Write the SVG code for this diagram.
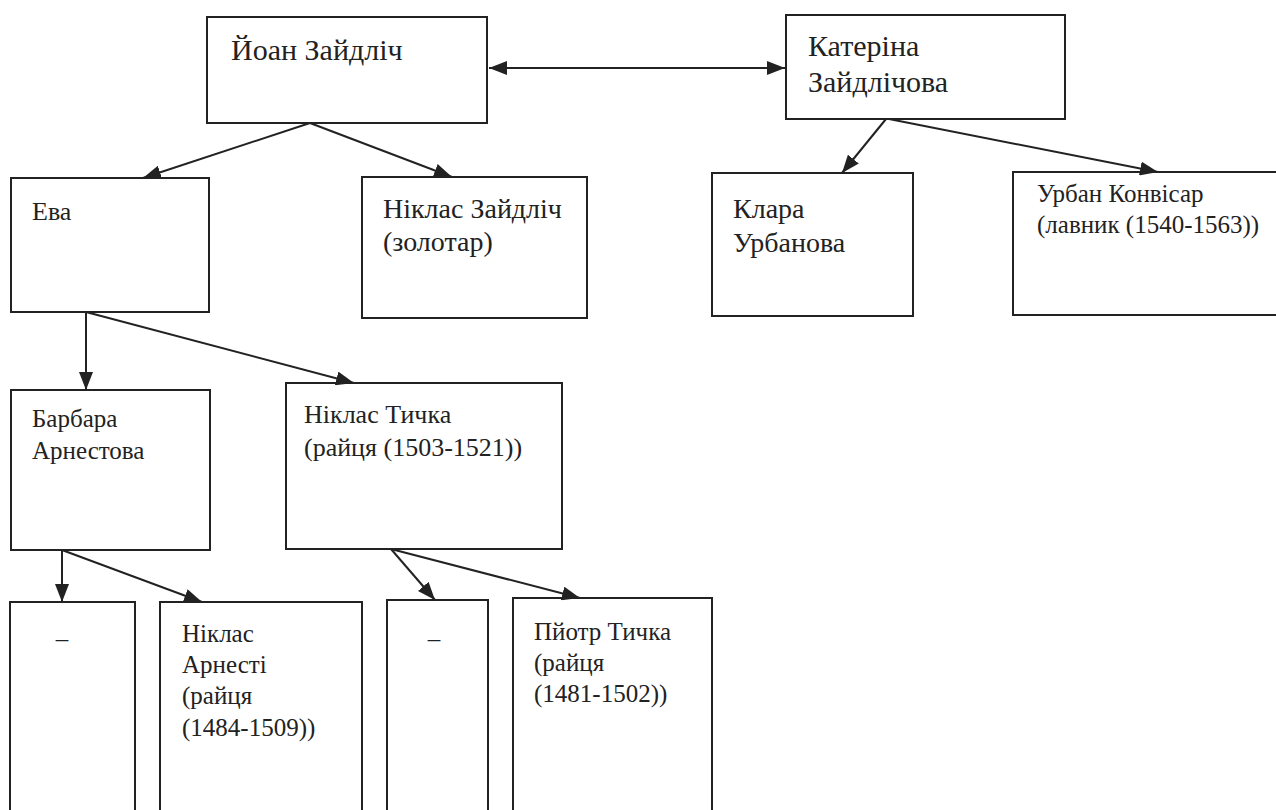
<svg xmlns="http://www.w3.org/2000/svg" width="1276" height="810" viewBox="0 0 1276 810" font-family="'Liberation Serif', 'Times New Roman', 'DejaVu Serif', serif">
<style>
.box{fill:none;stroke:#222;stroke-width:2}
text{font-family:"Liberation Serif","Times New Roman","DejaVu Serif",serif;fill:#222}
.l1{font-size:30px}
.l2{font-size:28px}
.l3{font-size:26px}
.l4{font-size:25px}
.c{stroke:#222;stroke-width:2;fill:none;marker-end:url(#ah)}
</style>
<defs>
<marker id="ah" markerUnits="userSpaceOnUse" markerWidth="20" markerHeight="14" refX="18" refY="7" orient="auto">
<path d="M0,0 L18,7 L0,14 Z" fill="#222"/>
</marker>
<marker id="ahs" markerUnits="userSpaceOnUse" markerWidth="20" markerHeight="14" refX="0" refY="7" orient="auto">
<path d="M18,0 L0,7 L18,14 Z" fill="#222"/>
</marker>
</defs>
<rect width="1276" height="810" fill="#fff"/>
<g id="connectors">
<line class="c" x1="489" y1="68" x2="785" y2="68" marker-start="url(#ahs)"/>
<line class="c" x1="310" y1="123" x2="143" y2="178"/>
<line class="c" x1="310" y1="123" x2="452" y2="177"/>
<line class="c" x1="886" y1="119" x2="842" y2="173"/>
<line class="c" x1="889" y1="119" x2="1158" y2="172"/>
<line class="c" x1="86" y1="312" x2="86" y2="390"/>
<line class="c" x1="86" y1="312" x2="354" y2="383"/>
<line class="c" x1="62" y1="550" x2="62" y2="602"/>
<line class="c" x1="62" y1="550" x2="202" y2="602"/>
<line class="c" x1="391" y1="549" x2="435" y2="600"/>
<line class="c" x1="391" y1="549" x2="580" y2="598"/>
</g>
<g id="n-ioan"><rect class="box" x="207" y="17" width="280" height="106"/><text class="l1" x="231" y="60">Йоан Зайдліч</text></g>
<g id="n-kateryna"><rect class="box" x="786" y="15" width="279" height="104"/><text class="l1" x="808" y="56">Катеріна</text><text class="l1" x="808" y="92">Зайдлічова</text></g>
<g id="n-eva"><rect class="box" x="11" y="178" width="198" height="134"/><text class="l3" x="32" y="220">Ева</text></g>
<g id="n-niklas-z"><rect class="box" x="362" y="177" width="225" height="141"/><text class="l2" x="383" y="218">Ніклас Зайдліч</text><text class="l2" x="383" y="251">(золотар)</text></g>
<g id="n-klara"><rect class="box" x="712" y="173" width="201" height="143"/><text class="l2" x="733" y="218">Клара</text><text class="l2" x="733" y="252">Урбанова</text></g>
<g id="n-urban"><rect class="box" x="1013" y="172" width="280" height="143"/><text class="l4" x="1037" y="202">Урбан Конвісар</text><text class="l4" x="1037" y="233">(лавник (1540-1563))</text></g>
<g id="n-barbara"><rect class="box" x="11" y="390" width="199" height="160"/><text class="l4" x="32" y="427">Барбара</text><text class="l4" x="32" y="459">Арнестова</text></g>
<g id="n-niklas-t"><rect class="box" x="286" y="383" width="276" height="166"/><text class="l3" x="304" y="423">Ніклас Тичка</text><text class="l3" x="304" y="456">(райця (1503-1521))</text></g>
<g id="n-dash1"><rect class="box" x="10" y="602" width="125" height="220"/><text class="l4" x="62" y="647" text-anchor="middle">–</text></g>
<g id="n-niklas-a"><rect class="box" x="160" y="602" width="202" height="220"/><text class="l4" x="182" y="642">Ніклас</text><text class="l4" x="182" y="673">Арнесті</text><text class="l4" x="182" y="704">(райця</text><text class="l4" x="182" y="736">(1484-1509))</text></g>
<g id="n-dash2"><rect class="box" x="387" y="600" width="101" height="222"/><text class="l4" x="434" y="647" text-anchor="middle">–</text></g>
<g id="n-piotr"><rect class="box" x="513" y="598" width="199" height="224"/><text class="l4" x="534" y="640">Пйотр Тичка</text><text class="l4" x="534" y="671">(райця</text><text class="l4" x="534" y="702">(1481-1502))</text></g>
</svg>
